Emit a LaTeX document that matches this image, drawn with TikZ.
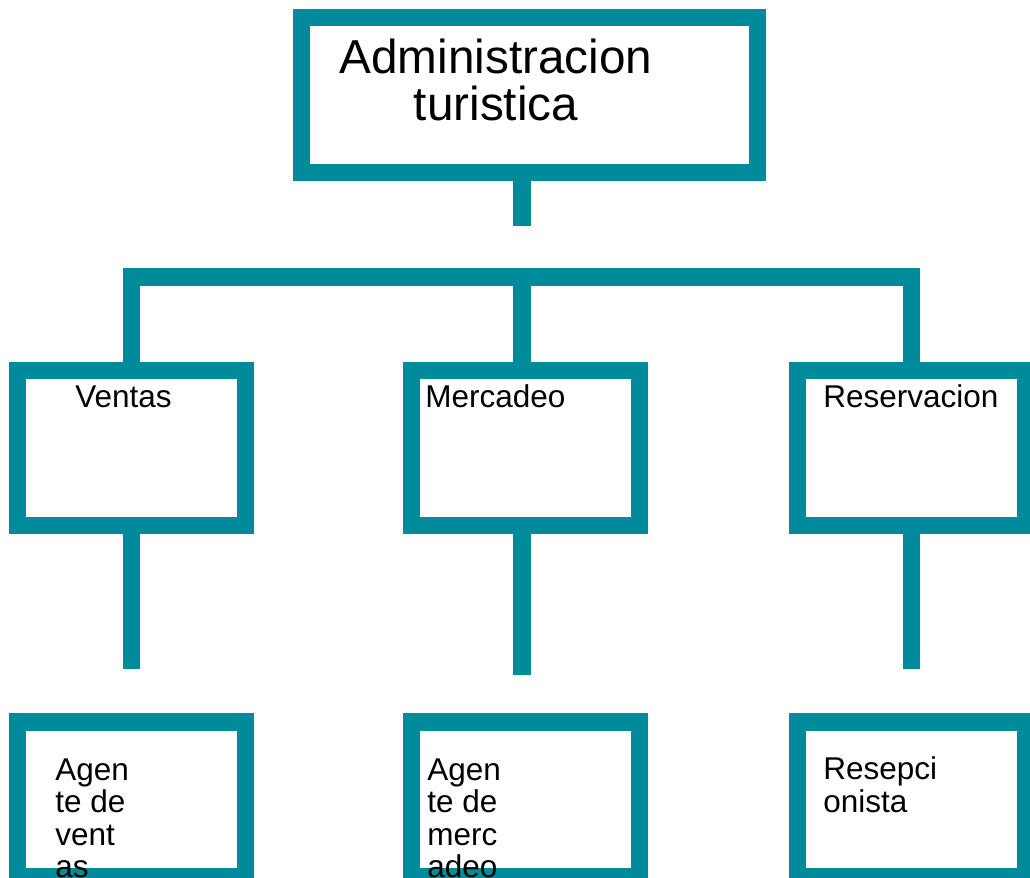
\documentclass[tikz,border=0pt]{standalone}
\usepackage{fontspec}
\setmainfont{Liberation Sans}
\usepackage{tikz}

\definecolor{orgteal}{RGB}{0,139,154}

\tikzset{
	orgbox/.style={draw=orgteal, line width=0.4375cm, fill=white, inner sep=0pt},
	unitbox/.style={orgbox, minimum width=5.6875cm, minimum height=3.8625cm},
	orgline/.style={orgteal, line width=0.4375cm, line join=miter},
	boxtext/.style={inner sep=0pt, align=left, font=\fontsize{22.4}{23.1}\selectfont},
	titletext/.style={inner sep=0pt, align=center, font=\fontsize{33.9}{33.4}\selectfont}
}

\begin{document}
\begin{tikzpicture}[x=0.025cm, y=-0.025cm]
		\useasboundingbox (0,0) rectangle (1030,877);

		\def\R{448}
		\def\S{799.5}

		\coordinate (spine) at (522,0);
		\coordinate (bar) at (0,277);

		\node[orgbox, minimum width=11.3875cm, minimum height=3.8625cm]
			(admin) at (529.5,95) {};

		\node[unitbox] (ventas) at (131.5,\R) {};
		\node[unitbox] (mercadeo) at (525.5,\R) {};
		\node[unitbox] (reservacion) at (911.5,\R) {};

		\node[unitbox] (agente-ventas) at (131.5,\S) {};
		\node[unitbox] (agente-mercadeo) at (525.5,\S) {};
		\node[unitbox] (recepcion) at (911.5,\S) {};

		\coordinate (admin-stem) at (522,226);
		\coordinate (ventas-stem) at (131.5,669);
		\coordinate (mercadeo-stem) at (522,675);
		\coordinate (reservacion-stem) at (911.5,669);

		\draw[orgline] (spine |- admin.south) -- (admin-stem);
		\draw[orgline] (ventas.north) -- (ventas.north |- bar)
			-- (reservacion.north |- bar) -- (reservacion.north);
		\draw[orgline] (spine |- bar) -- (spine |- mercadeo.north);

		\draw[orgline] (ventas.south) -- (ventas-stem);
		\draw[orgline] (spine |- mercadeo.south) -- (mercadeo-stem);
		\draw[orgline] (reservacion.south) -- (reservacion-stem);

		% multi-line texts: base is the last line
		\node[titletext, anchor=base] (admin-text)
			at (496,120) {Administracion\\turistica};

		\node[boxtext, anchor=base west] (ventas-text) at (75,407) {Ventas};
		\node[boxtext, anchor=base west] (mercadeo-text) at (425,407) {Mercadeo};
		\node[boxtext, anchor=base west] (reservacion-text)
			at (823,407) {Reservacion};

		\node[boxtext, anchor=base west] (agente-ventas-text)
			at (55,877.5) {Agen\\te de\\vent\\as};
		\node[boxtext, anchor=base west] (agente-mercadeo-text)
			at (427,877.5) {Agen\\te de\\merc\\adeo};
		\node[boxtext, anchor=base west] (recepcion-text)
			at (823,812) {Resepci\\onista};
	\end{tikzpicture}
\end{document}
